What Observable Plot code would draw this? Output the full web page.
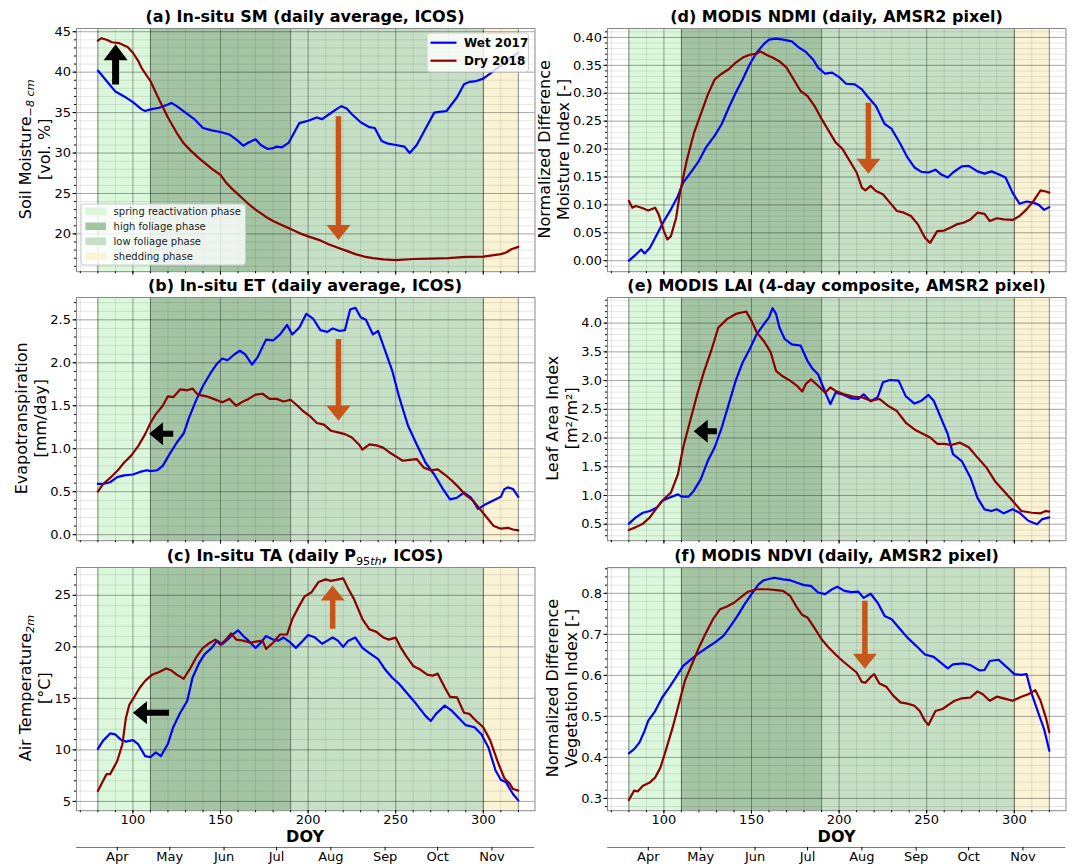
<!DOCTYPE html>
<html><head><meta charset="utf-8">
<script src="https://cdn.jsdelivr.net/npm/d3@7"></script>
<script src="https://cdn.jsdelivr.net/npm/@observablehq/plot@0.6"></script>
<style>
body{margin:0;background:#fff;}
#root{position:relative;width:1075px;height:867px;overflow:hidden;background:#fff;}
</style></head>
<body><div id="root"></div>
<script>
// ---------------- DATA ----------------
const phases = [
  {name: "spring reactivation phase", start: 80, end: 110, color: "#dcf8dc"},
  {name: "high foliage phase", start: 110, end: 190, color: "#a4c5a4"},
  {name: "low foliage phase", start: 190, end: 300, color: "#c6e0c6"},
  {name: "shedding phase", start: 300, end: 320, color: "#faf3d4"}
];
const phaseEdges = [80, 110, 190, 300, 320];
const xMajor = [100, 150, 200, 250, 300];
const xMinor = [70, 80, 90, 100, 110, 120, 130, 140, 150, 160, 170, 180, 190, 200, 210, 220, 230, 240, 250, 260, 270, 280, 290, 300, 310, 320];
const monthDOY = [91, 121, 152, 182, 213, 244, 274, 305];
const monthNames = ["Apr", "May", "Jun", "Jul", "Aug", "Sep", "Oct", "Nov"];
const seriesNames = ["Wet 2017", "Dry 2018"];

const smTicks = [20, 25, 30, 35, 40, 45];
const etTicks = [0, 0.5, 1.0, 1.5, 2.0, 2.5];
const taTicks = [5, 10, 15, 20, 25];
const ndmiTicks = [0, 0.05, 0.10, 0.15, 0.20, 0.25, 0.30, 0.35, 0.40];
const laiTicks = [0.5, 1.0, 1.5, 2.0, 2.5, 3.0, 3.5, 4.0];
const ndviTicks = [0.3, 0.4, 0.5, 0.6, 0.7, 0.8];

const smWet = [[80,40.2],[85,38.9],[90,37.6],[95,37.0],[100,36.3],[105,35.4],[107,35.2],[110,35.4],[115,35.6],[120,36.0],[122,36.2],[125,35.8],[130,35.0],[135,34.2],[140,33.1],[145,32.8],[150,32.6],[155,32.3],[160,31.5],[163,30.9],[166,31.3],[170,31.7],[173,31.0],[177,30.5],[180,30.6],[182,30.8],[185,30.7],[189,31.3],[192,32.5],[195,33.7],[200,34.0],[205,34.4],[208,34.2],[212,34.8],[216,35.4],[219,35.8],[222,35.5],[225,34.8],[230,33.8],[235,33.2],[238,33.1],[242,31.5],[245,31.2],[250,31.0],[255,30.8],[258,30.0],[262,31.0],[267,33.0],[272,35.0],[275,35.1],[279,35.2],[285,36.9],[289,38.5],[292,38.8],[296,38.9],[300,39.2],[305,40.0],[310,40.8],[315,41.7],[320,42.4]];
const smDry = [[80,43.9],[82,44.2],[85,44.0],[88,43.7],[92,43.6],[95,43.3],[97,43.1],[100,42.4],[103,41.4],[105,40.5],[110,38.9],[115,36.6],[120,34.4],[125,32.5],[129,31.2],[133,30.3],[137,29.5],[142,28.6],[146,27.9],[150,27.3],[153,26.4],[156,25.7],[162,24.5],[166,23.7],[170,23.0],[176,22.1],[180,21.6],[184,21.2],[190,20.6],[195,20.1],[200,19.7],[207,19.2],[212,18.7],[217,18.3],[222,17.9],[227,17.5],[232,17.2],[237,17.0],[243,16.85],[250,16.75],[260,16.9],[270,16.95],[280,17.0],[290,17.15],[300,17.2],[305,17.35],[310,17.5],[313,17.7],[316,18.1],[320,18.4]];

const etWet = [[80,0.59],[83,0.59],[87,0.61],[91,0.67],[95,0.69],[100,0.70],[104,0.73],[108,0.75],[110,0.74],[114,0.75],[117,0.80],[121,0.94],[125,1.07],[129,1.18],[132,1.36],[136,1.56],[140,1.73],[144,1.87],[148,1.99],[151,2.05],[154,2.03],[158,2.10],[161,2.14],[164,2.10],[168,1.98],[171,2.06],[176,2.27],[180,2.26],[184,2.33],[188,2.44],[191,2.33],[195,2.41],[199,2.57],[203,2.51],[207,2.38],[211,2.36],[214,2.40],[218,2.37],[221,2.38],[224,2.62],[227,2.64],[230,2.53],[233,2.50],[237,2.33],[240,2.37],[244,2.14],[248,1.91],[252,1.60],[257,1.27],[262,1.05],[267,0.84],[272,0.70],[277,0.53],[281,0.41],[285,0.43],[289,0.49],[293,0.43],[297,0.30],[301,0.35],[306,0.40],[310,0.44],[312,0.53],[314,0.55],[317,0.53],[320,0.44]];
const etDry = [[80,0.50],[83,0.59],[87,0.66],[91,0.74],[95,0.84],[99,0.92],[103,1.03],[107,1.17],[110,1.30],[113,1.40],[117,1.50],[120,1.61],[123,1.60],[127,1.69],[131,1.68],[134,1.70],[137,1.63],[142,1.61],[146,1.58],[151,1.54],[155,1.58],[159,1.50],[162,1.54],[166,1.58],[170,1.63],[174,1.64],[178,1.58],[182,1.58],[186,1.55],[190,1.57],[194,1.50],[197,1.44],[201,1.38],[205,1.30],[209,1.28],[213,1.21],[217,1.19],[221,1.17],[225,1.13],[229,1.05],[231,0.99],[235,1.05],[239,1.04],[243,1.01],[247,0.95],[251,0.90],[254,0.86],[258,0.87],[262,0.88],[266,0.78],[270,0.75],[274,0.76],[278,0.70],[282,0.63],[286,0.55],[290,0.46],[294,0.40],[298,0.30],[302,0.20],[306,0.10],[310,0.07],[314,0.08],[317,0.06],[320,0.05]];

const taWet = [[80,10.1],[83,10.9],[87,11.6],[90,11.5],[93,11.0],[96,10.8],[100,10.95],[103,10.55],[107,9.4],[110,9.3],[113,9.75],[116,9.4],[120,10.6],[123,12.2],[127,13.6],[131,14.75],[134,17.0],[138,18.5],[141,19.3],[145,19.9],[148,20.6],[151,20.25],[154,20.7],[157,21.2],[160,21.6],[163,21.05],[166,20.6],[170,19.9],[173,20.4],[176,21.05],[180,20.7],[183,20.6],[186,20.9],[190,20.4],[193,19.9],[197,20.6],[200,21.15],[204,20.9],[208,20.3],[211,20.6],[214,20.9],[217,20.6],[220,20.0],[223,20.6],[227,20.9],[231,19.9],[235,19.4],[240,18.8],[244,17.8],[248,17.0],[252,16.4],[257,15.4],[262,14.4],[267,13.3],[270,12.8],[273,13.5],[278,14.3],[282,13.8],[286,13.1],[290,12.4],[295,12.2],[299,11.5],[303,10.2],[307,8.0],[310,7.1],[313,6.85],[317,5.7],[320,5.1]];
const taDry = [[80,6.0],[83,7.0],[85,7.65],[87,7.65],[91,8.9],[94,10.55],[96,13.1],[98,14.4],[101,15.2],[104,16.05],[107,16.7],[111,17.3],[115,17.55],[119,17.9],[122,17.7],[125,17.3],[129,16.9],[133,18.0],[136,18.95],[140,19.9],[144,20.4],[147,20.7],[150,20.2],[153,20.7],[156,21.3],[159,20.7],[163,20.6],[167,20.4],[170,20.5],[174,20.6],[176,19.8],[180,20.4],[184,21.2],[188,21.2],[191,22.7],[195,24.0],[198,24.9],[202,25.3],[206,26.3],[210,26.55],[213,26.4],[216,26.5],[220,26.65],[223,25.6],[226,24.7],[231,22.7],[235,21.7],[239,21.45],[243,20.9],[246,20.7],[250,20.9],[253,19.9],[256,19.1],[260,18.15],[264,17.8],[268,17.3],[271,17.2],[274,17.4],[278,16.05],[281,15.15],[285,15.1],[289,13.6],[292,13.5],[296,12.8],[300,12.2],[304,10.9],[308,8.95],[312,7.25],[315,6.75],[317,6.2],[320,6.05]];

const ndmiWet = [[80,0.000],[84,0.011],[87,0.020],[89,0.013],[92,0.023],[96,0.047],[100,0.071],[104,0.092],[108,0.116],[111,0.140],[116,0.161],[120,0.179],[124,0.203],[129,0.224],[133,0.245],[137,0.274],[141,0.301],[145,0.325],[149,0.352],[153,0.373],[157,0.388],[160,0.396],[164,0.398],[168,0.396],[173,0.393],[177,0.382],[181,0.374],[185,0.361],[188,0.346],[192,0.335],[196,0.337],[200,0.329],[204,0.317],[209,0.316],[213,0.307],[216,0.295],[221,0.277],[226,0.245],[230,0.236],[235,0.209],[239,0.185],[243,0.167],[247,0.159],[251,0.158],[255,0.163],[258,0.155],[262,0.149],[265,0.158],[270,0.169],[274,0.170],[279,0.160],[283,0.156],[287,0.160],[291,0.155],[295,0.149],[299,0.122],[303,0.102],[307,0.106],[311,0.104],[314,0.100],[317,0.091],[320,0.096]];
const ndmiDry = [[80,0.107],[82,0.095],[84,0.098],[88,0.094],[91,0.090],[95,0.095],[97,0.083],[100,0.053],[102,0.038],[104,0.044],[107,0.077],[109,0.119],[113,0.179],[117,0.227],[121,0.262],[125,0.297],[129,0.325],[133,0.335],[137,0.343],[141,0.355],[145,0.364],[149,0.369],[153,0.371],[155,0.375],[159,0.368],[162,0.364],[166,0.357],[170,0.346],[174,0.325],[178,0.304],[182,0.295],[186,0.277],[190,0.254],[194,0.233],[198,0.212],[202,0.200],[206,0.179],[210,0.158],[213,0.131],[215,0.126],[218,0.134],[221,0.125],[225,0.119],[229,0.104],[233,0.089],[237,0.086],[241,0.080],[245,0.065],[249,0.041],[252,0.032],[256,0.053],[260,0.054],[264,0.060],[267,0.065],[271,0.068],[275,0.074],[279,0.086],[283,0.084],[286,0.071],[290,0.076],[294,0.074],[299,0.073],[303,0.080],[307,0.092],[311,0.107],[315,0.126],[318,0.124],[320,0.122]];

const laiWet = [[80,0.51],[84,0.62],[88,0.70],[92,0.73],[96,0.79],[99,0.91],[103,0.96],[108,1.02],[110,0.98],[114,0.98],[117,1.08],[121,1.28],[125,1.60],[129,1.84],[133,2.18],[137,2.59],[141,3.00],[145,3.32],[149,3.55],[153,3.81],[157,3.98],[160,4.10],[162,4.26],[164,4.16],[166,3.92],[169,3.72],[173,3.63],[178,3.61],[182,3.34],[185,3.20],[188,3.11],[191,2.88],[193,2.73],[195,2.59],[198,2.79],[202,2.76],[207,2.69],[211,2.68],[214,2.76],[218,2.64],[222,2.71],[225,2.97],[229,3.01],[234,3.00],[238,2.73],[243,2.60],[247,2.65],[251,2.75],[254,2.65],[258,2.36],[262,2.07],[265,1.72],[270,1.60],[275,1.31],[279,0.96],[283,0.76],[287,0.73],[290,0.76],[294,0.69],[299,0.76],[303,0.70],[308,0.56],[313,0.50],[316,0.59],[320,0.62]];
const laiDry = [[80,0.40],[84,0.45],[88,0.51],[92,0.62],[96,0.79],[100,0.94],[104,1.05],[108,1.37],[111,1.84],[115,2.30],[119,2.76],[123,3.17],[127,3.52],[131,3.92],[136,4.07],[141,4.16],[145,4.19],[147,4.20],[150,4.04],[153,3.84],[157,3.69],[161,3.49],[164,3.17],[168,3.07],[172,3.00],[176,2.91],[179,2.81],[181,2.94],[184,3.02],[188,2.91],[192,2.79],[195,2.88],[198,2.82],[203,2.76],[208,2.72],[213,2.71],[218,2.65],[223,2.68],[228,2.56],[233,2.47],[238,2.27],[243,2.15],[248,2.07],[252,2.01],[256,1.90],[260,1.90],[264,1.88],[269,1.92],[274,1.84],[279,1.66],[284,1.49],[289,1.25],[294,1.08],[299,0.91],[304,0.73],[310,0.70],[315,0.69],[318,0.73],[320,0.72]];

const ndviWet = [[80,0.410],[83,0.420],[86,0.436],[89,0.465],[91,0.489],[95,0.513],[99,0.546],[103,0.570],[108,0.603],[111,0.623],[115,0.637],[119,0.651],[124,0.666],[129,0.680],[134,0.696],[138,0.720],[142,0.745],[146,0.773],[150,0.798],[154,0.822],[157,0.832],[163,0.838],[168,0.834],[172,0.832],[176,0.826],[180,0.820],[184,0.818],[188,0.802],[192,0.798],[196,0.810],[199,0.816],[203,0.806],[207,0.803],[211,0.804],[214,0.789],[218,0.799],[222,0.777],[226,0.745],[230,0.737],[235,0.712],[239,0.692],[244,0.672],[249,0.651],[254,0.645],[258,0.631],[262,0.617],[265,0.627],[271,0.629],[275,0.625],[280,0.612],[283,0.613],[286,0.635],[291,0.638],[296,0.619],[300,0.603],[304,0.601],[307,0.603],[310,0.554],[314,0.505],[317,0.469],[320,0.416]];
const ndviDry = [[80,0.296],[83,0.319],[85,0.317],[88,0.331],[92,0.339],[95,0.351],[98,0.375],[101,0.416],[105,0.473],[109,0.538],[112,0.587],[116,0.627],[120,0.668],[124,0.704],[128,0.737],[132,0.761],[136,0.768],[140,0.777],[144,0.791],[148,0.804],[153,0.810],[159,0.810],[164,0.808],[168,0.806],[172,0.794],[176,0.765],[179,0.747],[182,0.741],[186,0.715],[190,0.688],[194,0.668],[198,0.651],[202,0.635],[206,0.621],[210,0.607],[213,0.584],[215,0.582],[218,0.596],[220,0.603],[223,0.580],[227,0.572],[231,0.550],[235,0.534],[239,0.531],[243,0.526],[246,0.513],[249,0.489],[251,0.479],[255,0.513],[259,0.518],[263,0.530],[266,0.538],[270,0.544],[275,0.546],[279,0.561],[282,0.554],[286,0.538],[290,0.548],[294,0.544],[299,0.538],[304,0.548],[308,0.554],[312,0.564],[315,0.538],[318,0.497],[320,0.461]];

// annotation arrows: tail (x1,y1) -> tip (x2,y2) in data units
const smArrows = [{kind:"black", x1:90.4, y1:38.4, x2:90.4, y2:43.4},{kind:"orange", x1:217.6, y1:34.5, x2:217.6, y2:19.2}];
const etArrows = [{kind:"blackS", x1:123.3, y1:1.17, x2:109.5, y2:1.17},{kind:"orange", x1:217.6, y1:2.27, x2:217.6, y2:1.32}];
const taArrows = [{kind:"blackS", x1:120.9, y1:13.56, x2:100.3, y2:13.56},{kind:"orange", x1:214.3, y1:21.7, x2:214.3, y2:25.9}];
const ndmiArrows = [{kind:"orange", x1:217, y1:0.282, x2:217, y2:0.155}];
const laiArrows = [{kind:"blackS", x1:130.6, y1:2.11, x2:117.3, y2:2.11}];
const ndviArrows = [{kind:"orange", x1:215, y1:0.781, x2:215, y2:0.615}];

// ---------------- STYLE / LAYOUT ----------------
const FONT = "DejaVu Sans, sans-serif";
const WET = "#0000ff", DRY = "#8b0000";
const arrowStyle = {
  black: {color: "#000", shaft: 7, headW: 24, headL: 16},
  blackS: {color: "#000", shaft: 6, headW: 23, headL: 14},
  orange: {color: "#c8561b", shaft: 5.5, headW: 24, headL: 15}
};
const X_DOMAIN = [67.8, 329.5];
const PXD = 1.752;
const FW = (X_DOMAIN[1] - X_DOMAIN[0]) * PXD;
const FH = 243.2;
const COLS = [75.8, 607.3];
const ROWS = [27.7, 296.7, 566.5];
const minor = (a, b, s) => d3.range(Math.round(a / s), Math.round(b / s) + 1).map(i => +(i * s).toFixed(4));

const panels = [
  {col:0,row:0,title:[{t:"(a) In-situ SM (daily average, ICOS)"}], ydomain:[15.33,45.4], yMajor:smTicks, yMinor:minor(16,45,1), fmt:d=>d.toFixed(0), wet:smWet, dry:smDry, arrows:smArrows, tlw:16.5,
   ylab:[[{t:"Soil Moisture"},{t:"\u22128 cm", sub:true, it:true}],[{t:"[vol. %]"}]]},
  {col:0,row:1,title:[{t:"(b) In-situ ET (daily average, ICOS)"}], ydomain:[-0.07,2.76], yMajor:etTicks, yMinor:minor(0,2.7,0.1), fmt:d=>d.toFixed(1), wet:etWet, dry:etDry, arrows:etArrows, tlw:20.7,
   ylab:[[{t:"Evapotranspiration"}],[{t:"[mm/day]"}]]},
  {col:0,row:2,title:[{t:"(c) In-situ TA (daily P"},{t:"95", sub:true, normal:true},{t:"th", sub2:true, it:true, normal:true},{t:", ICOS)", unsub:true}], ydomain:[4.1,27.7], yMajor:taTicks, yMinor:minor(5,27,1), fmt:d=>d.toFixed(0), wet:taWet, dry:taDry, arrows:taArrows, tlw:16.5,
   ylab:[[{t:"Air Temperature"},{t:"2m", sub:true, it:true}],[{t:"[\u00b0C]"}]]},
  {col:1,row:0,title:[{t:"(d) MODIS NDMI (daily, AMSR2 pixel)"}], ydomain:[-0.0197,0.416], yMajor:ndmiTicks, yMinor:minor(-0.01,0.41,0.01), fmt:d=>d.toFixed(2), wet:ndmiWet, dry:ndmiDry, arrows:ndmiArrows, tlw:28.9,
   ylab:[[{t:"Normalized Difference"}],[{t:"Moisture Index [-]"}]]},
  {col:1,row:1,title:[{t:"(e) MODIS LAI (4-day composite, AMSR2 pixel)"}], ydomain:[0.214,4.446], yMajor:laiTicks, yMinor:minor(0.3,4.4,0.1), fmt:d=>d.toFixed(1), wet:laiWet, dry:laiDry, arrows:laiArrows, tlw:20.7,
   ylab:[[{t:"Leaf Area Index"}],[{t:"[m\u00b2/m\u00b2]"}]]},
  {col:1,row:2,title:[{t:"(f) MODIS NDVI (daily, AMSR2 pixel)"}], ydomain:[0.270,0.863], yMajor:ndviTicks, yMinor:minor(0.28,0.86,0.02), fmt:d=>d.toFixed(1), wet:ndviWet, dry:ndviDry, arrows:ndviArrows, tlw:20.7,
   ylab:[[{t:"Normalized Difference"}],[{t:"Vegetation Index [-]"}]]}
];

const root = document.getElementById("root");

function arrowsMark(arrows) {
  return function(index, scales) {
    const g = d3.create("svg:g");
    for (const a of arrows) {
      const st = arrowStyle[a.kind];
      const x1 = scales.x(a.x1), y1 = scales.y(a.y1), x2 = scales.x(a.x2), y2 = scales.y(a.y2);
      const dx = x2 - x1, dy = y2 - y1, L = Math.hypot(dx, dy);
      const ux = dx / L, uy = dy / L, px = -uy, py = ux;
      const sw = st.shaft / 2, hw = st.headW / 2, hl = st.headL;
      const bx = x2 - ux * hl, by = y2 - uy * hl;
      const pts = [[x1+px*sw,y1+py*sw],[bx+px*sw,by+py*sw],[bx+px*hw,by+py*hw],[x2,y2],[bx-px*hw,by-py*hw],[bx-px*sw,by-py*sw],[x1-px*sw,y1-py*sw]];
      g.append("polygon").attr("points", pts.map(p => p.map(v => v.toFixed(2)).join(",")).join(" ")).attr("fill", st.color);
    }
    return g.node();
  };
}

const ML = 45, MR = 6, MT = 4;
for (const p of panels) {
  const mb = p.row === 2 ? 24 : 8;
  const x0 = COLS[p.col], y0 = ROWS[p.row];
  const svg = Plot.plot({
    width: ML + FW + MR, height: MT + FH + mb,
    marginLeft: ML, marginRight: MR, marginTop: MT, marginBottom: mb,
    x: {domain: X_DOMAIN},
    y: {domain: p.ydomain},
    color: {type: "identity"},
    style: {fontFamily: FONT, fontSize: "13px", color: "#000", background: "transparent", overflow: "visible"},
    marks: [
      Plot.rect(phases, {x1: "start", x2: "end", fill: "color"}),
      Plot.ruleX(xMinor, {stroke: "#000", strokeOpacity: 0.1}),
      Plot.ruleY(p.yMinor, {stroke: "#000", strokeOpacity: 0.1}),
      Plot.ruleX(xMajor, {stroke: "#000", strokeOpacity: 0.28}),
      Plot.ruleY(p.yMajor, {stroke: "#000", strokeOpacity: 0.28}),
      Plot.ruleX(phaseEdges, {stroke: "#000", strokeOpacity: 0.4}),
      Plot.line(p.wet, {x: d => d[0], y: d => d[1], stroke: WET, strokeWidth: 2.2}),
      Plot.line(p.dry, {x: d => d[0], y: d => d[1], stroke: DRY, strokeWidth: 2.2}),
      arrowsMark(p.arrows),
      Plot.frame({stroke: "#888"}),
      Plot.axisY(p.yMajor, {tickSize: 3.5, tickPadding: 2, tickFormat: p.fmt, label: null, fontSize: 13}),
      Plot.axisY(p.yMinor, {tickSize: 2, tickFormat: () => "", label: null}),
      Plot.axisX(xMajor, {tickSize: 3.5, tickPadding: 1, tickFormat: p.row === 2 ? (d => String(d)) : (() => ""), label: null, fontSize: 13}),
      Plot.axisX(xMinor, {tickSize: 2, tickFormat: () => "", label: null})
    ]
  });
  svg.style.position = "absolute";
  svg.style.left = (x0 - ML) + "px";
  svg.style.top = (y0 - MT) + "px";
  root.append(svg);
}

// month axes
for (const c of [0, 1]) {
  const svg = Plot.plot({
    width: ML + FW + MR, height: 22, marginLeft: ML, marginRight: MR, marginTop: 0, marginBottom: 21,
    x: {domain: X_DOMAIN}, y: {domain: [0, 1], axis: null},
    style: {fontFamily: FONT, fontSize: "13px", color: "#000", background: "transparent", overflow: "visible"},
    marks: [
      Plot.ruleY([0], {stroke: "#777"}),
      Plot.axisX(monthDOY, {tickSize: 3.5, tickPadding: 1, tickFormat: d => monthNames[monthDOY.indexOf(d)], label: null, fontSize: 13})
    ]
  });
  svg.style.position = "absolute";
  svg.style.left = (COLS[c] - ML) + "px";
  svg.style.top = (846.7 - 1) + "px";
  root.append(svg);
}

// overlay text
const ov = d3.select(root).append("svg").attr("width", 1075).attr("height", 867)
  .style("position", "absolute").style("left", "0px").style("top", "0px").style("font-family", FONT);

function richText(sel, parts, size) {
  let shifted = 0;
  for (const s of parts) {
    const ts = sel.append("tspan").text(s.t);
    if (s.it) ts.style("font-style", "italic");
    if (s.normal) ts.style("font-weight", "normal");
    if (s.sub) { ts.attr("font-size", size * 0.7).attr("dy", size * 0.22); shifted = size * 0.22; }
    else if (s.sub2) { ts.attr("font-size", size * 0.7); }
    else if (shifted) { ts.attr("dy", -shifted); shifted = 0; }
  }
}

for (const p of panels) {
  const x0 = COLS[p.col], y0 = ROWS[p.row];
  const cx = x0 + FW / 2, cy = y0 + FH / 2;
  const t = ov.append("text").attr("x", cx).attr("y", y0 - 5.5).attr("text-anchor", "middle")
    .attr("font-size", 16).attr("font-weight", "bold");
  richText(t, p.title, 16);
  const b2 = x0 - 4.8 - p.tlw - 4.7;
  const bases = [b2 - 19, b2];
  p.ylab.forEach((line, i) => {
    const tx = ov.append("text").attr("transform", `translate(${bases[i]},${cy}) rotate(-90)`)
      .attr("text-anchor", "middle").attr("font-size", 16);
    richText(tx, line, 16);
  });
  if (p.row === 2) {
    ov.append("text").attr("x", cx).attr("y", 841.7).attr("text-anchor", "middle")
      .attr("font-size", 16).attr("font-weight", "bold").text("DOY");
  }
}

// series legend (panel a)
{
  const g = ov.append("g");
  g.append("rect").attr("x", 427).attr("y", 33).attr("width", 101.5).attr("height", 39).attr("rx", 3)
    .attr("fill", "#fff").attr("fill-opacity", 0.8).attr("stroke", "#ccc");
  [WET, DRY].forEach((c, i) => {
    const y = 42.7 + i * 18;
    g.append("line").attr("x1", 430.5).attr("x2", 456.5).attr("y1", y).attr("y2", y).attr("stroke", c).attr("stroke-width", 2.2);
    g.append("text").attr("x", 464).attr("y", y + 4.3).attr("font-size", 12).attr("font-weight", "bold").text(seriesNames[i]);
  });
}
// phase legend (panel a)
{
  const g = ov.append("g");
  g.append("rect").attr("x", 81).attr("y", 204).attr("width", 164.5).attr("height", 61).attr("rx", 3)
    .attr("fill", "#fff").attr("fill-opacity", 0.8).attr("stroke", "#ccc");
  phases.forEach((ph, i) => {
    const y = 211.3 + i * 15;
    g.append("rect").attr("x", 85.4).attr("y", y - 3.8).attr("width", 20.6).attr("height", 7.6).attr("fill", ph.color);
    g.append("text").attr("x", 113.6).attr("y", y + 3.6).attr("font-size", 10).attr("fill", "#222").text(ph.name);
  });
}
</script>
</body></html>
